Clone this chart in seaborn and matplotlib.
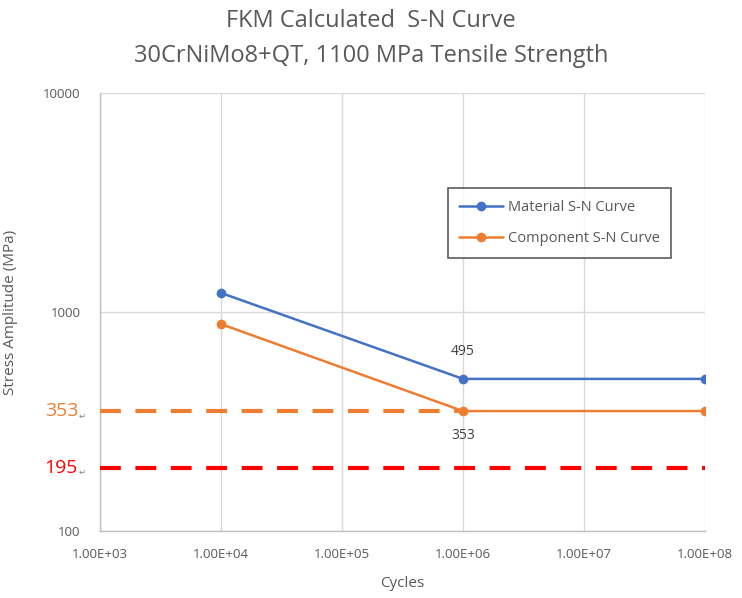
import numpy as np
import pandas as pd
import matplotlib
matplotlib.use('Agg')
import matplotlib.pyplot as plt
import matplotlib.ticker as mticker
import seaborn as sns

# values
cycles = [1e4, 1e6, 1e8]
material = [1222, 495, 495]
component = [881, 353, 353]
series_names = ['Material S-N Curve', 'Component S-N Curve']
limit_component = 353
limit_red = 195

df = pd.DataFrame({
    'Cycles': cycles * 2,
    'Stress': material + component,
    'Series': [series_names[0]] * 3 + [series_names[1]] * 3,
})

sns.set_style('white')
plt.rcParams['font.family'] = ['Open Sans', 'DejaVu Sans']
grey = '#595959'

fig = plt.figure(figsize=(7.42, 5.98), dpi=100)
ax = fig.add_axes([0.1348, 0.112, 0.8152, 0.7325])

sns.lineplot(data=df, x='Cycles', y='Stress', hue='Series', marker='o',
             markersize=7, markeredgewidth=0, linewidth=1.8,
             palette=['#4472C4', '#ED7D31'], ax=ax, zorder=4)

ax.set_xscale('log')
ax.set_yscale('log')
ax.set_xlim(1e3, 1e8)
ax.set_ylim(100, 10000)

# reference lines drawn across the plot
ax.plot([1e3, cycles[1]], [limit_component] * 2, color='#ED7D31', lw=3,
        dashes=(5, 3.5), zorder=3)
ax.plot([1e3, cycles[2]], [limit_red] * 2, color='#FF0000', lw=3,
        dashes=(5, 3.5), zorder=3)

# coloured labels left of the axis
for v, c in ((limit_component, '#ED7D31'), (limit_red, '#FF0000')):
    ax.annotate(str(v), (0, v), xycoords=('axes fraction', 'data'),
                xytext=(-22, 0), textcoords='offset pixels', ha='right',
                va='center', fontsize=14, color=c, annotation_clip=False)
    ax.annotate('\u21b5', (0, v), xycoords=('axes fraction', 'data'),
                xytext=(-21, -5), textcoords='offset pixels', ha='left',
                va='center', fontsize=6, color='#808080',
                family=['DejaVu Sans'], annotation_clip=False)

# data labels
ax.annotate(str(material[1]), (cycles[1], material[1]), xytext=(0, 14),
            textcoords='offset points', ha='center', va='bottom',
            fontsize=10, color='#404040')
ax.annotate(str(component[1]), (cycles[1], component[1]), xytext=(0, -12),
            textcoords='offset points', ha='center', va='top',
            fontsize=10, color='#404040')

ax.xaxis.set_major_formatter(mticker.FuncFormatter(lambda v, p: '{:.2E}'.format(v)))
ax.yaxis.set_major_formatter(mticker.FuncFormatter(lambda v, p: '{:g}'.format(v)))
ax.xaxis.set_major_locator(mticker.LogLocator(base=10, numticks=10))
ax.xaxis.set_minor_locator(mticker.LogLocator(base=10, subs=np.arange(2, 10), numticks=20))
ax.yaxis.set_minor_locator(mticker.LogLocator(base=10, subs=np.arange(2, 10), numticks=20))
ax.yaxis.set_minor_formatter(mticker.NullFormatter())
ax.xaxis.set_minor_formatter(mticker.NullFormatter())

ax.tick_params(which='major', length=0, labelsize=9.5, labelcolor=grey)
ax.tick_params(axis='x', which='major', pad=12)
ax.tick_params(axis='y', which='major', pad=14)
ax.tick_params(which='minor', direction='in', length=4, color='#bfbfbf', width=0.8)

ax.grid(True, which='major', color='#d9d9d9', lw=1)
for s in ['top', 'right']:
    ax.spines[s].set_visible(False)
for s in ['left', 'bottom']:
    ax.spines[s].set_color('#bfbfbf')
    ax.spines[s].set_linewidth(1)

ax.set_xlabel('Cycles', fontsize=11, color=grey)
ax.set_ylabel('Stress Amplitude (MPa)', fontsize=11, color=grey)
ax.xaxis.set_label_coords(0.5, -0.102)
ax.yaxis.set_label_coords(-0.136, 0.5)

fig.suptitle('FKM Calculated  S-N Curve\n30CrNiMo8+QT, 1100 MPa Tensile Strength',
             fontsize=17, color=grey, y=0.985, linespacing=1.6)

leg = ax.legend(title=None, loc='upper left', bbox_to_anchor=(0.575, 0.783),
                borderaxespad=0, frameon=True, fontsize=10.5, borderpad=0.8,
                labelspacing=1.15, handlelength=3.0, handletextpad=0.3,
                fancybox=False)
leg.get_frame().set_edgecolor('#333333')
leg.get_frame().set_linewidth(1.2)
for t in leg.get_texts():
    t.set_color(grey)

fig.savefig('out.png', dpi=100)
